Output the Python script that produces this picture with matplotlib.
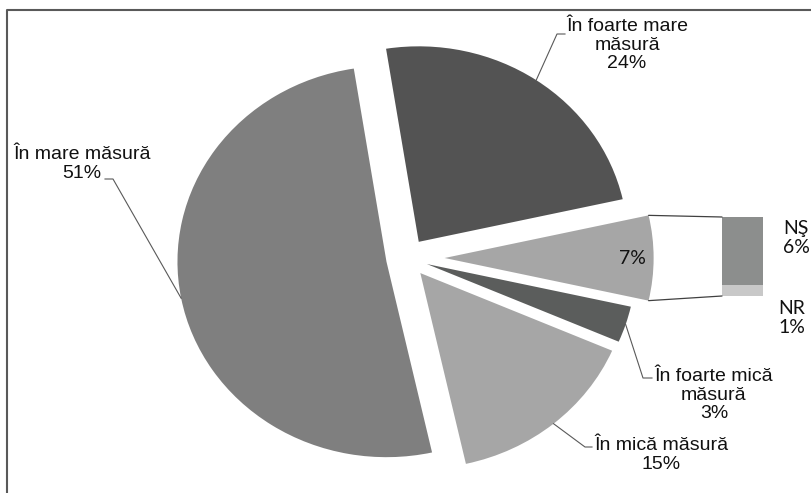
import matplotlib
matplotlib.use('Agg')
import matplotlib.pyplot as plt
import numpy as np
from matplotlib.lines import Line2D
from matplotlib.patches import ConnectionPatch

# procente, in ordinea de desenare (incepe cu felia "altele" la ora 3)
pie_names = ['', 'În foarte mare\nmăsură', 'În mare măsură', 'În mică măsură', 'În foarte mică\nmăsură']
pie_values = [7, 24, 51, 15, 3]
pie_colors = ['#a6a6a6', '#535353', '#7f7f7f', '#a6a6a6', '#5b5d5c']
pie_explode = [0.18, 0.1, 0.1, 0.1, 0.1]

bar_names = ['NR', 'NŞ']
bar_values = [1, 6]
bar_colors = ['#c8c8c8', '#8c8e8d']

W, H = 811, 493
CX, CY = 407, 258      # centrul pie-ului, pixeli
RX, RY = 209, 195.5    # graficul original e usor intins pe orizontala

LABEL_FONT = 'Liberation Sans'
SMALL_FONT = 'Lato'
FS = 14


def px(x, y):
    return (x - CX) / RX, (CY - y) / RY


fig = plt.figure(figsize=(W / 100, H / 100), dpi=100)
ax = fig.add_axes([0, 0, 1, 1])

start = -pie_values[0] / sum(pie_values) * 180
wedges, _ = ax.pie(
    pie_values,
    explode=pie_explode,
    colors=pie_colors,
    startangle=start,
    counterclock=True,
    wedgeprops=dict(linewidth=0),
)
ax.set_aspect('auto')
ax.set_xlim(-CX / RX, (W - CX) / RX)
ax.set_ylim(-(H - CY) / RY, CY / RY)
ax.axis('off')

# etichete + linii de legatura: (centru text, cot, capat)
label_pos = {
    1: ((627, 45), (557, 34), (565, 34)),
    2: ((82, 164), (113, 179), (105, 179)),
    3: ((661, 455), (585, 447), (592, 447)),
    4: ((714, 395), (643, 378), (652, 378)),
}
for i, (txt_xy, elbow, tick) in label_pos.items():
    w = wedges[i]
    mid = np.deg2rad((w.theta1 + w.theta2) / 2)
    p0 = (w.center[0] + w.r * np.cos(mid), w.center[1] + w.r * np.sin(mid))
    e = px(*elbow)
    t = px(*tick)
    ax.plot([p0[0], e[0], t[0]], [p0[1], e[1], t[1]], color='#595959', lw=0.8)
    ax.text(*px(*txt_xy), f'{pie_names[i]}\n{pie_values[i]}%', ha='center', va='center',
            fontsize=FS, family=LABEL_FONT, color='#111111', linespacing=1.12)

ax.text(*px(632, 258), f'{pie_values[0]}%', ha='center', va='center',
        fontsize=FS, family=SMALL_FONT, color='#111111')

# bara cu NS / NR
bax = fig.add_axes([722 / W, (H - 296) / H, 41 / W, 79 / H])
bottom = 0
for name, val, col in zip(bar_names, bar_values, bar_colors):
    bax.bar(0, val, bottom=bottom, width=1, color=col, linewidth=0)
    bottom += val
bax.set_xlim(-0.5, 0.5)
bax.set_ylim(0, sum(bar_values))
bax.axis('off')

ax.text(*px(796, 238), f'{bar_names[1]}\n{bar_values[1]}%', ha='center', va='center',
        fontsize=FS, family=SMALL_FONT, color='#111111', linespacing=1.12)
ax.text(*px(792, 318), f'{bar_names[0]}\n{bar_values[0]}%', ha='center', va='center',
        fontsize=FS, family=SMALL_FONT, color='#111111', linespacing=1.12)

# linii intre felia "altele" si bara
w = wedges[0]
for theta, yb in ((w.theta2, sum(bar_values)), (w.theta1, 0)):
    a = np.deg2rad(theta)
    pa = (w.center[0] + w.r * np.cos(a), w.center[1] + w.r * np.sin(a))
    con = ConnectionPatch(xyA=pa, coordsA=ax.transData, xyB=(-0.5, yb), coordsB=bax.transData,
                          color='#404040', lw=0.9)
    fig.add_artist(con)

# chenarul graficului (taiat la dreapta si jos)
fig.add_artist(Line2D([7 / W, 7 / W, 1], [0, 1 - 10 / H, 1 - 10 / H],
                      transform=fig.transFigure, color='#595959', lw=1.5))

fig.savefig('out.png', dpi=100, facecolor='white')
